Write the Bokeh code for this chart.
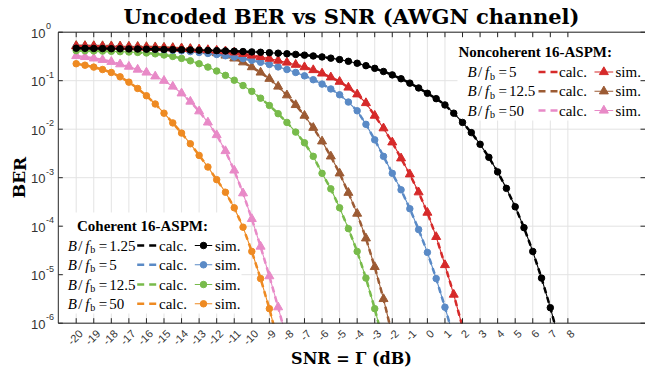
from bokeh.plotting import figure
from bokeh.models import Range1d
from bokeh.core.properties import value
from bokeh.embed import file_html
from bokeh.resources import INLINE

# ---------------- data ----------------
snr_db = [-20.0, -19.5, -19.0, -18.5, -18.0, -17.5, -17.0, -16.5, -16.0, -15.5,
          -15.0, -14.5, -14.0, -13.5, -13.0, -12.5, -12.0, -11.5, -11.0, -10.5,
          -10.0, -9.5, -9.0, -8.5, -8.0, -7.5, -7.0, -6.5, -6.0, -5.5,
          -5.0, -4.5, -4.0, -3.5, -3.0, -2.5, -2.0, -1.5, -1.0, -0.5,
          0.0, 0.5, 1.0, 1.5, 2.0, 2.5, 3.0, 3.5, 4.0, 4.5,
          5.0, 5.5, 6.0, 6.5, 7.0, 7.5]

# log10(BER) values, coherent 16-ASPM
coh_125_log10 = [-0.33, -0.333, -0.335, -0.337, -0.34, -0.342, -0.345, -0.347, -0.35, -0.353,
                 -0.356, -0.359, -0.362, -0.366, -0.37, -0.375, -0.38, -0.386, -0.392, -0.399,
                 -0.406, -0.414, -0.423, -0.433, -0.445, -0.458, -0.473, -0.49, -0.51, -0.535,
                 -0.565, -0.6, -0.64, -0.69, -0.745, -0.81, -0.88, -0.96, -1.05, -1.15,
                 -1.26, -1.37, -1.5, -1.67, -1.86, -2.07, -2.31, -2.58, -2.88, -3.22,
                 -3.6, -4.03, -4.52, -5.07, -5.68, -6.35]
coh_5_log10 = [-0.30, -0.303, -0.306, -0.31, -0.314, -0.319, -0.325, -0.332, -0.34, -0.349,
               -0.36, -0.372, -0.385, -0.40, -0.418, -0.438, -0.46, -0.485, -0.513, -0.545,
               -0.58, -0.62, -0.665, -0.715, -0.77, -0.83, -0.9, -0.98, -1.07, -1.17,
               -1.29, -1.44, -1.62, -1.9, -2.22, -2.56, -2.91, -3.25, -3.64, -4.07,
               -4.54, -5.08, -5.67, -6.3]
coh_12_5_log10 = [-0.38, -0.383, -0.386, -0.39, -0.395, -0.401, -0.408, -0.417, -0.428, -0.446,
                  -0.47, -0.5, -0.54, -0.59, -0.65, -0.72, -0.8, -0.89, -0.99, -1.1,
                  -1.22, -1.36, -1.51, -1.68, -1.86, -2.06, -2.28, -2.56, -2.91, -3.23,
                  -3.62, -4.05, -4.52, -5.07, -5.7, -6.4]
coh_50_log10 = [-0.65, -0.68, -0.72, -0.77, -0.83, -0.92, -1.03, -1.16, -1.31, -1.48,
                -1.67, -1.87, -2.08, -2.3, -2.54, -2.78, -3.04, -3.3, -3.62, -4.02,
                -4.52, -5.08, -5.7, -6.4]

# log10(BER) values, noncoherent 16-ASPM
nc_5_log10 = [-0.29, -0.292, -0.294, -0.297, -0.30, -0.303, -0.307, -0.312, -0.318, -0.324,
              -0.33, -0.335, -0.341, -0.348, -0.356, -0.366, -0.378, -0.392, -0.415, -0.445,
              -0.48, -0.51, -0.545, -0.585, -0.625, -0.67, -0.72, -0.78, -0.85, -0.93,
              -1.02, -1.14, -1.28, -1.46, -1.72, -1.98, -2.27, -2.6, -2.93, -3.3,
              -3.72, -4.22, -4.8, -5.41, -6.08]
nc_12_5_log10 = [-0.28, -0.281, -0.283, -0.285, -0.287, -0.29, -0.293, -0.297, -0.302, -0.308,
                 -0.315, -0.322, -0.33, -0.343, -0.36, -0.39, -0.43, -0.48, -0.54, -0.62,
                 -0.72, -0.83, -0.96, -1.12, -1.3, -1.5, -1.72, -1.97, -2.25, -2.56,
                 -2.91, -3.31, -3.74, -4.25, -4.84, -5.5, -6.25]
nc_50_log10 = [-0.49, -0.51, -0.54, -0.57, -0.61, -0.66, -0.71, -0.77, -0.83, -0.91,
               -1.0, -1.12, -1.26, -1.43, -1.63, -1.86, -2.12, -2.45, -2.85, -3.32,
               -3.85, -4.42, -5.03, -5.67, -6.35]

coherent_bf = ["1.25", "5", "12.5", "50"]
noncoherent_bf = ["5", "12.5", "50"]

x_ticks = [-20, -19, -18, -17, -16, -15, -14, -13, -12, -11, -10, -9, -8, -7, -6,
           -5, -4, -3, -2, -1, 0, 1, 2, 3, 4, 5, 6, 7, 8]
x_tick_labels = ["-20", "-19", "-18", "-17", "-16", "-15", "-14", "-13", "-12", "-11",
                 "-10", "-9", "-8", "-7", "-6", "-5", "-4", "-3", "-2", "-1",
                 "0", "1", "2", "3", "4", "5", "6", "7", "8"]
y_ticks = [1e-6, 1e-5, 1e-4, 1e-3, 1e-2, 1e-1, 1.0]
y_tick_exponents = ["-6", "-5", "-4", "-3", "-2", "-1", "0"]
y_min, y_max = 1e-6, 1.0

# ---------------- styles / layout ----------------
C_BLACK = "#000000"
C_BLUE = "#5a8ac6"
C_GREEN = "#78bb4b"
C_ORANGE = "#ee8a22"
C_RED = "#d62a2a"
C_BROWN = "#9c5b34"
C_PINK = "#e88ac7"
AX = "#262626"
GRID = "#e3e3e3"
TICKTXT = "#333333"
SERIF = "DejaVu Serif"
LSERIF = "Liberation Serif"
SANS = "Liberation Sans"

W, H = 645, 372
# pixel geometry of the axes box
BOX_L, BOX_R, BOX_T, BOX_B = 57.3, 645.5, 31.7, 322.7
PX_PER_DB = 17.56
PX_PER_DECADE = (BOX_B - BOX_T) / 6.0
X_AT_BOX_L = -20 - (75.7 - BOX_L) / PX_PER_DB


def lx(px):
    return X_AT_BOX_L + (px - BOX_L) / PX_PER_DB


def ly(py):
    return 10 ** (-(py - BOX_T) / PX_PER_DECADE)


p = figure(width=W, height=H, output_backend="svg", toolbar_location=None,
           x_range=Range1d(lx(0), lx(W)), y_range=Range1d(ly(H), ly(0)),
           y_axis_type="log", min_border=0,
           min_border_left=0, min_border_right=0, min_border_top=0, min_border_bottom=0)
p.title.visible = False
p.outline_line_color = None
p.background_fill_color = "white"
p.border_fill_color = "white"
p.xaxis.visible = False
p.yaxis.visible = False
p.xgrid.visible = False
p.ygrid.visible = False

nx, ny = len(x_ticks), len(y_ticks)
bl, br = lx(BOX_L + 0.5), lx(BOX_R - 0.5)

# grid
p.segment(x0=x_ticks, x1=x_ticks, y0=[y_min] * nx, y1=[y_max] * nx,
          line_color=GRID, line_width=1)
p.segment(x0=[bl] * ny, x1=[br] * ny, y0=y_ticks, y1=y_ticks,
          line_color=GRID, line_width=1)

# white legend backgrounds
p.quad(left=[lx(457), lx(63)], right=[lx(641), lx(241)],
       top=[ly(36), ly(212)], bottom=[ly(120), ly(313)],
       fill_color="white", line_color=None)


# ---------------- curves ----------------
def draw(vals, color, marker, msize):
    xs = snr_db[:len(vals)]
    ys = [10 ** v for v in vals]
    p.line(xs, ys, line_color=color, line_width=1.1)
    keep = [i for i, y in enumerate(ys) if y >= y_min]
    p.scatter([xs[i] for i in keep], [ys[i] for i in keep], marker=marker, size=msize,
              fill_color=color, line_color=color)
    p.line(xs, ys, line_color=color, line_width=2.5, line_dash="6 4")


series = [
    (coh_50_log10, C_ORANGE, "circle", 6.5),
    (nc_50_log10, C_PINK, "triangle", 9),
    (coh_12_5_log10, C_GREEN, "circle", 6.5),
    (nc_12_5_log10, C_BROWN, "triangle", 9),
    (coh_5_log10, C_BLUE, "circle", 6.5),
    (nc_5_log10, C_RED, "triangle", 9),
    (coh_125_log10, C_BLACK, "circle", 6.5),
]
for vals, col, mk, ms in series:
    draw(vals, col, mk, ms)

# mask anything that dips below the box bottom
p.quad(left=[lx(0)], right=[lx(W)], top=[ly(BOX_B + 0.5)], bottom=[ly(H)],
       fill_color="white", line_color=None)


# ---------------- legends ----------------
def legend_block(title, title_x, title_y, label_x, rows_y, bfs, colors, marker, msize,
                 calc_x0, calc_x1, calc_tx, sim_x0, sim_x1, sim_tx):
    p.text(x=[lx(title_x)], y=[ly(title_y)], text=[title], text_font=value(LSERIF),
           text_font_style="bold", text_font_size="15px", text_baseline="middle",
           text_align="left", text_color="#000000")
    for ry, bf, col in zip(rows_y, bfs, colors):
        yy = ly(ry)
        ys = ly(ry + 4)
        p.text(x=[lx(label_x)], y=[yy], text=["B"], text_font=value(LSERIF),
               text_font_style="italic", text_font_size="15px", text_baseline="middle")
        p.text(x=[lx(label_x + 10.5)], y=[yy], text=["/"], text_font=value(LSERIF),
               text_font_size="15px", text_baseline="middle")
        p.text(x=[lx(label_x + 17.5)], y=[yy], text=["f"], text_font=value(LSERIF),
               text_font_style="italic", text_font_size="15px", text_baseline="middle")
        p.text(x=[lx(label_x + 22.5)], y=[ys], text=["b"], text_font=value(LSERIF),
               text_font_size="10px", text_baseline="middle")
        p.text(x=[lx(label_x + 31)], y=[yy], text=["="], text_font=value(LSERIF),
               text_font_size="15px", text_baseline="middle")
        p.text(x=[lx(label_x + 41.5)], y=[yy], text=[bf], text_font=value(LSERIF),
               text_font_size="15px", text_baseline="middle")
        p.line([lx(calc_x0), lx(calc_x1)], [yy, yy], line_color=col, line_width=2.5,
               line_dash="7 5")
        p.text(x=[lx(calc_tx)], y=[yy], text=["calc."], text_font=value(LSERIF),
               text_font_size="15px", text_baseline="middle")
        p.line([lx(sim_x0), lx(sim_x1)], [yy, yy], line_color=col, line_width=1.1)
        p.scatter([lx((sim_x0 + sim_x1) / 2)], [yy], marker=marker, size=msize,
                  fill_color=col, line_color=col)
        p.text(x=[lx(sim_tx)], y=[yy], text=["sim."], text_font=value(LSERIF),
               text_font_size="15px", text_baseline="middle")


legend_block("Noncoherent 16-ASPM:", 458, 51, 467, [71.5, 90.8, 110],
             noncoherent_bf, [C_RED, C_BROWN, C_PINK], "triangle", 9,
             538, 557, 558.5, 594, 612.7, 615)
legend_block("Coherent 16-ASPM:", 76.5, 225.5, 67.3, [245, 264.3, 284, 303.3],
             coherent_bf, [C_BLACK, C_BLUE, C_GREEN, C_ORANGE], "circle", 6.5,
             136.7, 156.7, 158.5, 194.3, 211.7, 214.5)

# ---------------- axes box, inward ticks ----------------
p.line([br, bl, bl, br], [y_max, y_max, y_min, y_min], line_color=AX, line_width=1)
tick_up, tick_dn = ly(BOX_B - 5), ly(BOX_T + 5)
p.segment(x0=x_ticks, x1=x_ticks, y0=[y_min] * nx, y1=[tick_up] * nx, line_color=AX, line_width=1)
p.segment(x0=x_ticks, x1=x_ticks, y0=[y_max] * nx, y1=[tick_dn] * nx, line_color=AX, line_width=1)
p.segment(x0=[bl] * ny, x1=[lx(BOX_L + 5)] * ny, y0=y_ticks, y1=y_ticks, line_color=AX, line_width=1)
p.segment(x0=[lx(W)] * ny, x1=[lx(W - 5)] * ny, y0=y_ticks, y1=y_ticks, line_color=AX, line_width=1)

# ---------------- tick labels, axis titles, figure title ----------------
p.text(x=[t + 4.5 / PX_PER_DB for t in x_ticks], y=[ly(BOX_B + 8.5)] * nx, text=x_tick_labels,
       angle=0.785398, text_align="right", text_baseline="middle",
       text_font=value(SANS), text_font_size="11px", text_color=TICKTXT)
p.text(x=[lx(45)] * ny, y=[t * 10 ** (-1 / PX_PER_DECADE) for t in y_ticks], text=["10"] * ny,
       text_align="right", text_baseline="middle",
       text_font=value(SANS), text_font_size="13px", text_color=TICKTXT)
p.text(x=[lx(45.5)] * ny, y=[t * 10 ** (6 / PX_PER_DECADE) for t in y_ticks], text=y_tick_exponents,
       text_align="left", text_baseline="middle",
       text_font=value(SANS), text_font_size="9px", text_color=TICKTXT)
p.text(x=[lx(19)], y=[ly(177)], text=["BER"], angle=1.570796, text_align="center",
       text_baseline="middle", text_font=value(SERIF), text_font_style="bold",
       text_font_size="17px", text_color="#000000")
p.text(x=[lx(351)], y=[ly(358)], text=["SNR = \u0393 (dB)"], text_align="center",
       text_baseline="middle", text_font=value(SERIF), text_font_style="bold",
       text_font_size="16px", text_color="#000000")
p.text(x=[lx(351)], y=[ly(16)], text=["Uncoded BER vs SNR (AWGN channel)"], text_align="center",
       text_baseline="middle", text_font=value(SERIF), text_font_style="bold",
       text_font_size="21px", text_color="#000000")

open("out.html", "w").write(file_html(p, INLINE))
